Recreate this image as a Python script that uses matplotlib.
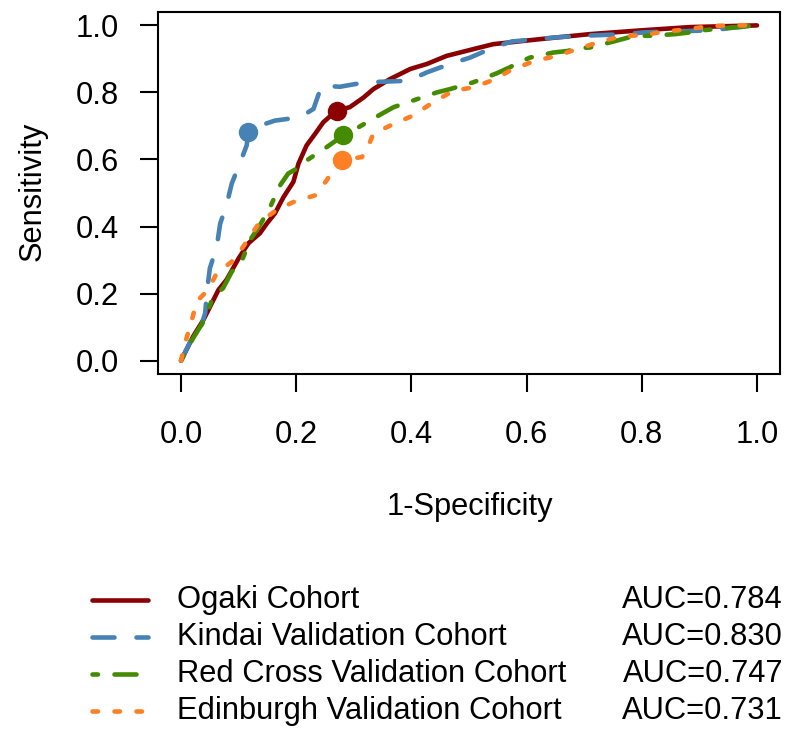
import matplotlib
matplotlib.use('Agg')
import matplotlib.pyplot as plt

plt.rcParams['font.family'] = ['Liberation Sans', 'DejaVu Sans']
plt.rcParams['lines.scale_dashes'] = False

# ROC curves (1-Specificity, Sensitivity)
ogaki_x = [0, 0.021, 0.039, 0.065, 0.079, 0.10, 0.117, 0.137, 0.149, 0.163, 0.178, 0.195,
           0.204, 0.218, 0.233, 0.247, 0.27, 0.293, 0.317, 0.334, 0.363, 0.398, 0.427,
           0.461, 0.484, 0.507, 0.542, 0.623, 0.71, 0.797, 0.884, 1.0]
ogaki_y = [0, 0.072, 0.122, 0.211, 0.241, 0.305, 0.35, 0.38, 0.409, 0.439, 0.488, 0.533,
           0.588, 0.642, 0.677, 0.711, 0.746, 0.756, 0.785, 0.810, 0.840, 0.870, 0.885,
           0.909, 0.919, 0.929, 0.944, 0.959, 0.974, 0.985, 0.995, 1.0]

kindai_x = [0, 0.017, 0.019, 0.033, 0.042, 0.045, 0.05, 0.062, 0.068, 0.079, 0.088, 0.102,
            0.114, 0.117, 0.137, 0.163, 0.207, 0.23, 0.244, 0.276, 0.319, 0.395, 0.427,
            0.467, 0.502, 0.542, 0.574, 0.618, 0.649, 0.693, 0.727, 0.771, 0.803, 0.843,
            0.88, 0.924, 0.958, 1.0]
kindai_y = [0, 0.06, 0.085, 0.092, 0.142, 0.206, 0.275, 0.34, 0.409, 0.464, 0.528, 0.588,
            0.642, 0.683, 0.701, 0.716, 0.726, 0.751, 0.82, 0.817, 0.830, 0.835, 0.860,
            0.885, 0.904, 0.934, 0.952, 0.959, 0.964, 0.969, 0.971, 0.974, 0.979, 0.982,
            0.983, 0.986, 0.993, 1.0]

redcross_x = [0, 0.021, 0.039, 0.056, 0.073, 0.088, 0.105, 0.12, 0.137, 0.155, 0.172, 0.186,
              0.201, 0.218, 0.253, 0.282, 0.308, 0.343, 0.369, 0.403, 0.444, 0.467, 0.507,
              0.548, 0.571, 0.583, 0.606, 0.646, 0.672, 0.687, 0.710, 0.751, 0.777, 0.791,
              0.814, 0.858, 0.883, 0.897, 0.921, 0.965, 1.0]
redcross_y = [0, 0.067, 0.117, 0.191, 0.216, 0.265, 0.295, 0.36, 0.404, 0.459, 0.523, 0.558,
              0.573, 0.597, 0.637, 0.672, 0.696, 0.731, 0.756, 0.776, 0.800, 0.810, 0.830,
              0.857, 0.875, 0.887, 0.904, 0.919, 0.924, 0.932, 0.934, 0.952, 0.964, 0.969,
              0.969, 0.974, 0.979, 0.984, 0.988, 0.995, 1.0]

edinburgh_x = [0, 0.007, 0.019, 0.027, 0.047, 0.062, 0.088, 0.108, 0.137, 0.166, 0.195, 0.233,
               0.253, 0.262, 0.279, 0.314, 0.322, 0.334, 0.369, 0.403, 0.438, 0.473, 0.507,
               0.542, 0.571, 0.612, 0.652, 0.687, 0.733, 0.762, 0.803, 0.843, 0.878, 0.918,
               0.953, 1.0]
edinburgh_y = [0, 0.052, 0.122, 0.176, 0.211, 0.261, 0.295, 0.34, 0.414, 0.449, 0.473, 0.493,
               0.538, 0.563, 0.599, 0.607, 0.627, 0.677, 0.706, 0.731, 0.771, 0.805, 0.815,
               0.837, 0.865, 0.893, 0.909, 0.929, 0.954, 0.966, 0.972, 0.982, 0.988, 0.998,
               1.0, 1.0]

# best cut-off points
cut_x = [0.27, 0.117, 0.282, 0.279]
cut_y = [0.746, 0.683, 0.672, 0.599]

labels = ['Ogaki Cohort', 'Kindai Validation Cohort',
          'Red Cross Validation Cohort', 'Edinburgh Validation Cohort']
auc = [0.784, 0.830, 0.747, 0.731]
colors = ['#8B0000', '#4682B4', '#458B00', '#FF7F24']

u = 3.96  # R dash unit in points
dash_styles = [None, (0, (4 * u, 4 * u)), (0, (u, 3 * u, 4 * u, 3 * u)), (0, (u, 3 * u))]
lw = 3.3
fs = 22.2

curves = [(ogaki_x, ogaki_y), (kindai_x, kindai_y),
          (redcross_x, redcross_y), (edinburgh_x, edinburgh_y)]

fig = plt.figure(figsize=(8, 7.4), dpi=100)
ax = fig.add_axes([158 / 800, 1 - 374 / 740, 622 / 800, 362 / 740])

for (xs, ys), c, ls in zip(curves, colors, dash_styles):
    kw = dict(color=c, lw=lw, solid_capstyle='round', dash_capstyle='round',
              solid_joinstyle='round')
    if ls is not None:
        kw['linestyle'] = ls
    ax.plot(xs, ys, **kw)

for i in range(4):
    ax.plot(cut_x[i], cut_y[i], 'o', color=colors[i], markersize=14, markeredgewidth=0)

ax.set_xlim(-0.04, 1.04)
ax.set_ylim(-0.04, 1.04)
ax.set_xticks([0, 0.2, 0.4, 0.6, 0.8, 1.0])
ax.set_yticks([0, 0.2, 0.4, 0.6, 0.8, 1.0])
ax.set_xticklabels(['0.0', '0.2', '0.4', '0.6', '0.8', '1.0'])
ax.set_yticklabels(['0.0', '0.2', '0.4', '0.6', '0.8', '1.0'])
for s in ax.spines.values():
    s.set_linewidth(1.5)
ax.tick_params(direction='out', length=13, width=1.5, labelsize=fs)
ax.tick_params(axis='x', pad=20)
ax.tick_params(axis='y', pad=15)

fig.text(469.5 / 800, 1 - 515 / 740, '1-Specificity', fontsize=fs,
         ha='center', va='baseline')
fig.text(41 / 800, 1 - 191 / 740, 'Sensitivity', fontsize=fs, rotation=90,
         ha='center', va='baseline', rotation_mode='anchor')

# legend drawn in pixel coordinates
lg = fig.add_axes([0, 0, 1, 1])
lg.set_xlim(0, 800)
lg.set_ylim(740, 0)
lg.axis('off')
rows = [600, 637, 674, 711]
for i in range(4):
    kw = dict(color=colors[i], lw=lw, solid_capstyle='round', dash_capstyle='round')
    if dash_styles[i] is not None:
        kw['linestyle'] = dash_styles[i]
    lg.plot([92, 148], [rows[i], rows[i]], **kw)
    lg.text(177, rows[i], labels[i], fontsize=fs, ha='left', va='center')
    lg.text(783, rows[i], 'AUC=%.3f' % auc[i], fontsize=fs, ha='right', va='center')

fig.savefig('out.png', dpi=100)
